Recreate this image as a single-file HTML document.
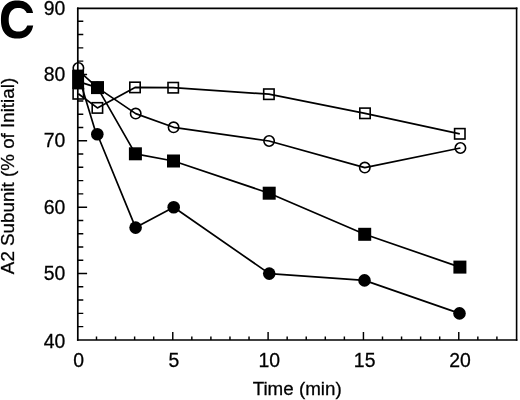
<!DOCTYPE html>
<html><head><meta charset="utf-8"><style>
html,body{margin:0;padding:0;background:#fff;}
body{width:520px;height:400px;overflow:hidden;font-family:"Liberation Sans",sans-serif;}
svg{display:block;will-change:transform;}
</style></head><body>
<svg width="520" height="400" viewBox="0 0 520 400">
<path d="M76.95 8.35H517.4" stroke="#000" stroke-width="1.6"/>
<path d="M77.8 7.55V340.85" stroke="#000" stroke-width="1.7"/>
<path d="M516.6 7.55V340.85" stroke="#000" stroke-width="1.6"/>
<path d="M76.95 340.0H517.4" stroke="#000" stroke-width="1.7"/>
<path d="M77.8 326.62h5.5M77.8 313.35h5.5M77.8 300.07h5.5M77.8 286.80h5.5M77.8 273.52h9.3M77.8 260.25h5.5M77.8 246.97h5.5M77.8 233.70h5.5M77.8 220.42h5.5M77.8 207.15h9.3M77.8 193.87h5.5M77.8 180.60h5.5M77.8 167.32h5.5M77.8 154.05h5.5M77.8 140.77h9.3M77.8 127.50h5.5M77.8 114.22h5.5M77.8 100.95h5.5M77.8 87.67h5.5M77.8 74.40h9.3M77.8 61.12h5.5M77.8 47.85h5.5M77.8 34.57h5.5M77.8 21.30h5.5M96.50 340.0v-3.4M115.56 340.0v-3.4M134.63 340.0v-3.4M153.70 340.0v-3.4M172.77 340.0v-8M191.83 340.0v-3.4M210.90 340.0v-3.4M229.97 340.0v-3.4M249.03 340.0v-3.4M268.10 340.0v-8M287.17 340.0v-3.4M306.23 340.0v-3.4M325.30 340.0v-3.4M344.37 340.0v-3.4M363.44 340.0v-8M382.50 340.0v-3.4M401.57 340.0v-3.4M420.64 340.0v-3.4M439.70 340.0v-3.4M458.77 340.0v-8M477.84 340.0v-3.4M496.90 340.0v-3.4" stroke="#000" stroke-width="1.45" fill="none"/>
<polyline points="78.30,93.80 97.40,107.90 135.00,87.40 173.20,87.70 268.90,94.20 365.00,113.30 459.80,133.80" fill="none" stroke="#000" stroke-width="1.7" stroke-linejoin="round"/>
<polyline points="78.30,70.30 97.40,87.60 135.70,113.60 173.60,127.30 269.10,141.00 364.80,167.60 460.40,148.00" fill="none" stroke="#000" stroke-width="1.7" stroke-linejoin="round"/>
<polyline points="78.30,81.60 97.50,87.60 135.40,153.80 173.50,161.00 269.20,193.20 364.70,234.30 459.90,267.10" fill="none" stroke="#000" stroke-width="1.7" stroke-linejoin="round"/>
<polyline points="78.30,75.00 96.30,134.20 97.30,134.20 135.60,227.60 173.70,207.30 269.25,273.60 364.50,280.40 459.50,313.40" fill="none" stroke="#000" stroke-width="1.7" stroke-linejoin="round"/>
<rect x="73.10" y="88.60" width="10.40" height="10.40" fill="none" stroke="#000" stroke-width="1.6"/>
<rect x="92.20" y="102.70" width="10.40" height="10.40" fill="none" stroke="#000" stroke-width="1.6"/>
<rect x="129.80" y="82.20" width="10.40" height="10.40" fill="none" stroke="#000" stroke-width="1.6"/>
<rect x="168.00" y="82.50" width="10.40" height="10.40" fill="none" stroke="#000" stroke-width="1.6"/>
<rect x="263.70" y="89.00" width="10.40" height="10.40" fill="none" stroke="#000" stroke-width="1.6"/>
<rect x="359.80" y="108.10" width="10.40" height="10.40" fill="none" stroke="#000" stroke-width="1.6"/>
<rect x="454.60" y="128.60" width="10.40" height="10.40" fill="none" stroke="#000" stroke-width="1.6"/>
<circle cx="78.40" cy="68.00" r="5.20" fill="none" stroke="#000" stroke-width="1.6"/>
<circle cx="97.40" cy="87.60" r="5.20" fill="none" stroke="#000" stroke-width="1.6"/>
<circle cx="135.70" cy="113.60" r="5.20" fill="none" stroke="#000" stroke-width="1.6"/>
<circle cx="173.60" cy="127.30" r="5.20" fill="none" stroke="#000" stroke-width="1.6"/>
<circle cx="269.10" cy="141.00" r="5.20" fill="none" stroke="#000" stroke-width="1.6"/>
<circle cx="364.80" cy="167.60" r="5.20" fill="none" stroke="#000" stroke-width="1.6"/>
<circle cx="460.40" cy="148.00" r="5.20" fill="none" stroke="#000" stroke-width="1.6"/>
<rect x="91.00" y="81.10" width="13" height="13" fill="#000"/>
<rect x="128.90" y="147.30" width="13" height="13" fill="#000"/>
<rect x="167.00" y="154.50" width="13" height="13" fill="#000"/>
<rect x="262.70" y="186.70" width="13" height="13" fill="#000"/>
<rect x="358.20" y="227.80" width="13" height="13" fill="#000"/>
<rect x="453.40" y="260.60" width="13" height="13" fill="#000"/>
<circle cx="97.30" cy="134.20" r="6.3" fill="#000"/>
<circle cx="135.60" cy="227.60" r="6.3" fill="#000"/>
<circle cx="173.70" cy="207.30" r="6.3" fill="#000"/>
<circle cx="269.25" cy="273.60" r="6.3" fill="#000"/>
<circle cx="364.50" cy="280.40" r="6.3" fill="#000"/>
<circle cx="459.50" cy="313.40" r="6.3" fill="#000"/>
<rect x="72.1" y="69.6" width="12" height="19.2" fill="#000"/>
<text x="65.4" y="347.80" text-anchor="end" font-size="19.4" font-family="Liberation Sans, sans-serif" stroke="#000" stroke-width="0.28">40</text>
<text x="65.4" y="280.12" text-anchor="end" font-size="19.4" font-family="Liberation Sans, sans-serif" stroke="#000" stroke-width="0.28">50</text>
<text x="65.4" y="213.75" text-anchor="end" font-size="19.4" font-family="Liberation Sans, sans-serif" stroke="#000" stroke-width="0.28">60</text>
<text x="65.4" y="147.37" text-anchor="end" font-size="19.4" font-family="Liberation Sans, sans-serif" stroke="#000" stroke-width="0.28">70</text>
<text x="65.4" y="81.00" text-anchor="end" font-size="19.4" font-family="Liberation Sans, sans-serif" stroke="#000" stroke-width="0.28">80</text>
<text x="65.4" y="14.62" text-anchor="end" font-size="19.4" font-family="Liberation Sans, sans-serif" stroke="#000" stroke-width="0.28">90</text>
<text x="78.60" y="367.0" text-anchor="middle" font-size="19.4" font-family="Liberation Sans, sans-serif" stroke="#000" stroke-width="0.28">0</text>
<text x="173.95" y="367.0" text-anchor="middle" font-size="19.4" font-family="Liberation Sans, sans-serif" stroke="#000" stroke-width="0.28">5</text>
<text x="269.30" y="367.0" text-anchor="middle" font-size="19.4" font-family="Liberation Sans, sans-serif" stroke="#000" stroke-width="0.28">10</text>
<text x="364.65" y="367.0" text-anchor="middle" font-size="19.4" font-family="Liberation Sans, sans-serif" stroke="#000" stroke-width="0.28">15</text>
<text x="460.00" y="367.0" text-anchor="middle" font-size="19.4" font-family="Liberation Sans, sans-serif" stroke="#000" stroke-width="0.28">20</text>
<text x="297.2" y="394.6" text-anchor="middle" font-size="18.8" font-family="Liberation Sans, sans-serif" stroke="#000" stroke-width="0.28">Time (min)</text>
<text transform="translate(14.2,176.0) rotate(-90)" text-anchor="middle" font-size="18.8" font-family="Liberation Sans, sans-serif" stroke="#000" stroke-width="0.28">A2 Subunit (% of Initial)</text>
<path d="M33.05 12.90L32.84 12.03L32.60 11.18L32.33 10.37L32.03 9.59L31.70 8.84L31.34 8.11L30.95 7.42L30.53 6.76L30.08 6.13L29.61 5.53L29.11 4.96L28.58 4.42L28.03 3.92L27.45 3.44L26.84 3.00L26.21 2.60L25.55 2.23L24.87 1.90L24.16 1.60L23.43 1.33L22.66 1.10L21.87 0.91L21.04 0.76L20.17 0.64L19.25 0.55L18.23 0.51L16.89 0.50L15.79 0.53L14.83 0.60L13.94 0.70L13.09 0.84L12.29 1.01L11.51 1.23L10.76 1.47L10.04 1.76L9.35 2.08L8.68 2.43L8.04 2.82L7.42 3.24L6.83 3.70L6.26 4.19L5.72 4.71L5.21 5.27L4.72 5.86L4.27 6.48L3.84 7.12L3.43 7.80L3.06 8.51L2.72 9.25L2.40 10.02L2.12 10.82L1.86 11.65L1.64 12.51L1.45 13.40L1.29 14.33L1.16 15.30L1.06 16.32L0.99 17.40L0.96 18.61L0.95 20.19L0.98 21.44L1.04 22.55L1.13 23.58L1.25 24.56L1.41 25.49L1.59 26.39L1.81 27.26L2.06 28.10L2.34 28.90L2.64 29.68L2.98 30.42L3.35 31.14L3.74 31.83L4.17 32.48L4.62 33.11L5.10 33.70L5.60 34.26L6.14 34.79L6.70 35.29L7.28 35.76L7.90 36.19L8.53 36.58L9.19 36.95L9.88 37.27L10.60 37.57L11.34 37.82L12.11 38.04L12.91 38.23L13.74 38.37L14.62 38.48L15.56 38.56L16.61 38.60L17.98 38.60L19.03 38.56L19.97 38.48L20.85 38.37L21.69 38.23L22.49 38.04L23.26 37.82L24.00 37.57L24.71 37.28L25.40 36.95L26.06 36.59L26.70 36.19L27.31 35.76L27.90 35.29L28.46 34.80L28.99 34.27L29.50 33.70L29.98 33.11L30.43 32.49L30.85 31.83L31.25 31.14L31.62 30.43L31.95 29.68L32.26 28.91L32.54 28.10L32.79 27.27L33.00 26.40L33.19 25.50L27.19 25.50L27.19 25.50L27.01 25.94L26.82 26.37L26.61 26.78L26.39 27.18L26.15 27.56L25.90 27.93L25.64 28.28L25.36 28.62L25.07 28.94L24.76 29.24L24.45 29.53L24.12 29.79L23.77 30.04L23.42 30.27L23.05 30.49L22.68 30.68L22.29 30.85L21.89 31.01L21.48 31.15L21.05 31.26L20.61 31.36L20.16 31.44L19.69 31.49L19.19 31.53L18.64 31.55L18.00 31.55L17.47 31.52L16.98 31.48L16.51 31.42L16.06 31.33L15.63 31.23L15.21 31.11L14.80 30.97L14.40 30.81L14.02 30.63L13.64 30.43L13.28 30.21L12.93 29.97L12.59 29.72L12.26 29.45L11.95 29.16L11.65 28.85L11.36 28.53L11.09 28.19L10.83 27.83L10.58 27.46L10.35 27.07L10.13 26.67L9.92 26.25L9.73 25.82L9.56 25.37L9.40 24.91L9.26 24.44L9.13 23.95L9.02 23.45L8.93 22.93L8.85 22.39L8.79 21.84L8.74 21.27L8.71 20.66L8.70 19.98L8.70 19.20L8.72 18.57L8.76 17.97L8.81 17.41L8.88 16.86L8.97 16.34L9.07 15.83L9.19 15.33L9.32 14.85L9.47 14.38L9.64 13.92L9.82 13.48L10.01 13.06L10.22 12.65L10.45 12.25L10.69 11.87L10.94 11.51L11.21 11.16L11.49 10.83L11.78 10.51L12.09 10.21L12.41 9.93L12.74 9.66L13.08 9.42L13.44 9.19L13.81 8.98L14.19 8.79L14.58 8.62L14.98 8.47L15.40 8.33L15.82 8.22L16.26 8.13L16.72 8.05L17.20 8.00L17.70 7.96L18.26 7.95L18.90 7.96L19.42 7.98L19.90 8.03L20.36 8.10L20.81 8.18L21.24 8.29L21.66 8.41L22.07 8.56L22.46 8.72L22.85 8.91L23.22 9.11L23.58 9.33L23.93 9.57L24.27 9.82L24.59 10.10L24.90 10.39L25.20 10.70L25.49 11.03L25.76 11.37L26.02 11.73L26.26 12.10L26.49 12.49L26.71 12.90Z" fill="#000"/>
</svg>
</body></html>
